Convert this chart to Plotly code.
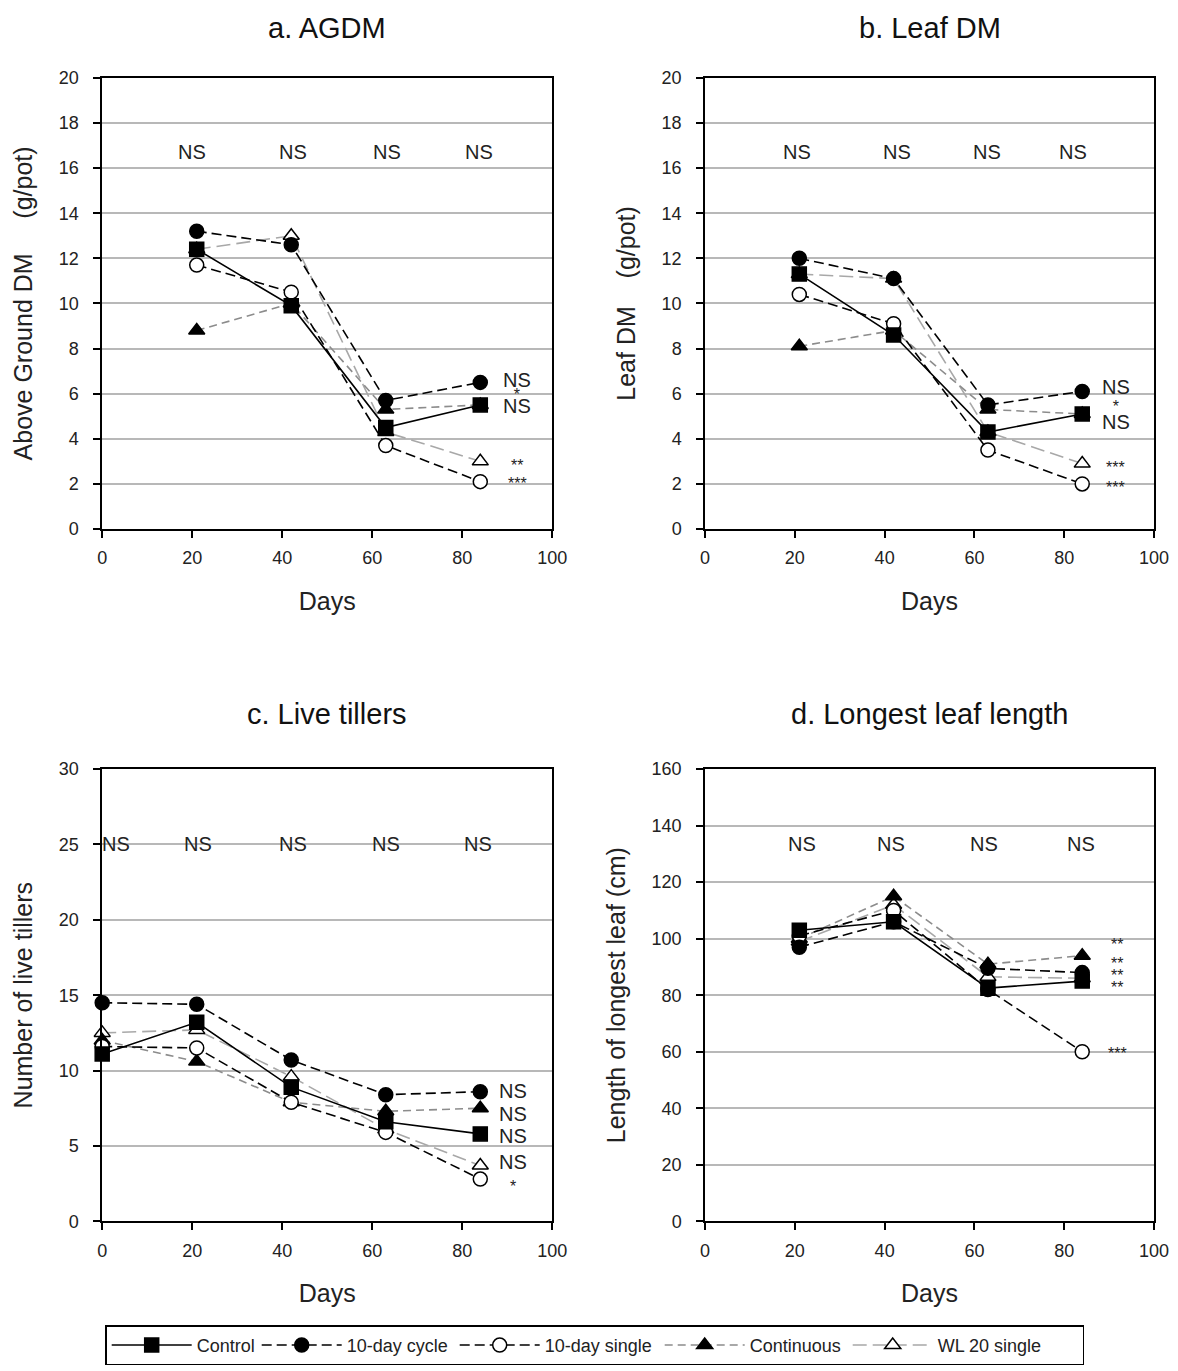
import plotly.graph_objects as go

# ---------------- data ----------------
treatments = ["Control", "10-day cycle", "10-day single", "Continuous", "WL 20 single"]

days_dm = [21, 42, 63, 84]
days_tillers = [0, 21, 42, 63, 84]

# a. AGDM (g/pot)
agdm_control = [12.4, 9.9, 4.5, 5.5]
agdm_cycle = [13.2, 12.6, 5.7, 6.5]
agdm_single = [11.7, 10.5, 3.7, 2.1]
agdm_continuous = [8.8, 10.0, 5.3, 5.5]
agdm_wl20 = [12.4, 13.0, 4.3, 3.0]

# b. Leaf DM (g/pot)
leaf_control = [11.3, 8.6, 4.3, 5.1]
leaf_cycle = [12.0, 11.1, 5.5, 6.1]
leaf_single = [10.4, 9.1, 3.5, 2.0]
leaf_continuous = [8.1, 8.8, 5.3, 5.1]
leaf_wl20 = [11.3, 11.1, 4.3, 2.9]

# c. Live tillers
till_control = [11.1, 13.2, 8.9, 6.6, 5.8]
till_cycle = [14.5, 14.4, 10.7, 8.4, 8.6]
till_single = [11.6, 11.5, 7.9, 5.9, 2.8]
till_continuous = [12.0, 10.6, 7.9, 7.3, 7.5]
till_wl20 = [12.5, 12.7, 9.6, 6.1, 3.7]

# d. Longest leaf length (cm)
len_control = [103, 106, 82.5, 85]
len_cycle = [97, 106, 89.5, 88]
len_single = [101, 110, 82, 60]
len_continuous = [100, 115, 91, 94]
len_wl20 = [99, 112, 86.5, 86]

# significance labels: top row (per harvest) and right-hand labels at day 84
sig_top_a_x = [20, 42.4, 63.3, 83.8]
sig_top_a_y = 16.7
sig_top_b_x = [20.4, 42.7, 62.7, 82]
sig_top_b_y = 16.7
sig_top_c_x = [3.1, 21.3, 42.4, 63.1, 83.6]
sig_top_c_y = 25.0
sig_top_d_x = [21.5, 41.5, 62.2, 83.7]
sig_top_d_y = 133.5

# right-hand labels: each entry is a stack of lines (text list), y of the stack centre
sig_right_a = [(["NS", "*", "NS"], 6.05), (["**"], 3.0), (["***"], 2.2)]
sig_right_b = [(["NS", "*", "NS"], 5.53), (["***"], 2.9), (["***"], 2.0)]
sig_right_c = [(["NS"], 8.65), (["NS"], 7.15), (["NS"], 5.64), (["NS"], 3.94), (["*"], 2.6)]
sig_right_d = [(["**"], 99.2), (["**", "**", "**"], 88.3), (["***"], 60.8)]
# line spacing (px) inside each multi-line stack, per panel
stack_spacing = [13, 17.5, 0, 12]
sig_right_x = [92.2, 91.5, 91.3, 91.8]

# ---------------- styles ----------------
FONT = "Liberation Sans, Arial, sans-serif"
styles = {
    "Control": dict(color="black", dash="solid", symbol="square", fill="black", lw=55),
    "10-day cycle": dict(color="black", dash="10px,5px", symbol="circle", fill="black", lw=103),
    "10-day single": dict(color="black", dash="10px,5px", symbol="circle", fill="white", lw=110),
    "Continuous": dict(color="#8c8c8c", dash="8px,5px", symbol="triangle-up", fill="black", lw=93),
    "WL 20 single": dict(color="#a8a8a8", dash="14px,6px", symbol="triangle-up", fill="white", lw=140),
}

W, H = 1178, 1371
# mapping from target picture pixels to paper fractions (capture scale/offset)
S, CX, CY, OFF = 0.985, 3.6, 10.2, 0


def fx(X):
    return ((X - CX) / S - OFF) / W


def fy(Y):
    return 1 - ((Y - CY) / S - OFF) / H


fig = go.Figure()

panels = [
    ("x", "y", days_dm, [agdm_control, agdm_cycle, agdm_single, agdm_continuous, agdm_wl20]),
    ("x2", "y2", days_dm, [leaf_control, leaf_cycle, leaf_single, leaf_continuous, leaf_wl20]),
    ("x3", "y3", days_tillers, [till_control, till_cycle, till_single, till_continuous, till_wl20]),
    ("x4", "y4", days_dm, [len_control, len_cycle, len_single, len_continuous, len_wl20]),
]

draw_order = [4, 3, 2, 0, 1]
for pi, (xa, ya, xs, series) in enumerate(panels):
    for ti in draw_order:
        name = treatments[ti]
        st = styles[name]
        fig.add_trace(go.Scatter(
            x=xs, y=series[ti], xaxis=xa, yaxis=ya, name=name,
            legendgroup=name, showlegend=(pi == 0), legendrank=ti + 1,
            legendwidth=st["lw"],
            mode="lines+markers", cliponaxis=False,
            line=dict(color=st["color"], dash=st["dash"], width=1.6),
            marker=dict(symbol=st["symbol"], size=14, color=st["fill"],
                        line=dict(color="black", width=1.5)),
        ))

# ---------------- layout ----------------
xdom_l = [fx(101), fx(552)]
xdom_r = [fx(705), fx(1155)]
ydom_t = [fy(529), fy(78)]
ydom_b = [fy(1221), fy(769)]

tickfont = dict(family=FONT, size=18, color="#222")
titlefont = dict(family=FONT, size=25, color="#222")


def xaxis(dom, anchor):
    return dict(domain=dom, anchor=anchor, range=[0, 100], tickvals=[0, 20, 40, 60, 80, 100],
                showgrid=False, zeroline=False, showline=True, linecolor="black", linewidth=1.5,
                mirror=True, ticks="outside", ticklen=7, tickwidth=1.5, tickcolor="black",
                tickfont=tickfont, ticklabelstandoff=5,
                title=dict(text="Days", font=titlefont, standoff=25))


def yaxis(dom, anchor, rng, dtick, title):
    return dict(domain=dom, anchor=anchor, range=rng, dtick=dtick,
                showgrid=True, gridcolor="#b8b8b8", gridwidth=1.5, zeroline=False,
                showline=True, linecolor="black", linewidth=1.5, mirror=True,
                ticks="outside", ticklen=7, tickwidth=1.5, tickcolor="black",
                tickfont=tickfont, ticklabelstandoff=11,
                title=dict(text=title, font=titlefont, standoff=19))


nb = "\u00a0"
fig.update_layout(
    width=W, height=H,
    margin=dict(l=0, r=0, t=0, b=0),
    paper_bgcolor="white", plot_bgcolor="white",
    hovermode=False,
    font=dict(family=FONT, color="#222"),
    xaxis=xaxis(xdom_l, "y"),
    yaxis=yaxis(ydom_t, "x", [0, 20], 2, "Above Ground DM" + nb * 5 + "(g/pot)"),
    xaxis2=xaxis(xdom_r, "y2"),
    yaxis2=yaxis(ydom_t, "x2", [0, 20], 2, "Leaf DM" + nb * 4 + "(g/pot)"),
    xaxis3=xaxis(xdom_l, "y3"),
    yaxis3=yaxis(ydom_b, "x3", [0, 30], 5, "Number of live tillers"),
    xaxis4=xaxis(xdom_r, "y4"),
    yaxis4=yaxis(ydom_b, "x4", [0, 160], 20, "Length of longest leaf (cm)"),
    legend=dict(orientation="h", x=fx(104), xanchor="left", y=fy(1325), yanchor="top",
                bordercolor="black", borderwidth=1.5, bgcolor="white",
                font=dict(family=FONT, size=18, color="#222"), traceorder="normal",
                itemwidth=80),
)

# panel titles
titles = [("x", "a. AGDM", 1.0, "top"), ("x2", "b. Leaf DM", 1.0, "top"),
          ("x3", "c. Live tillers", fy(714), "middle"), ("x4", "d. Longest leaf length", fy(714), "middle")]
for xa, txt, yp, ya_ in titles:
    fig.add_annotation(text=txt, xref=xa + " domain", yref="paper", x=0.5, y=yp,
                       showarrow=False, xanchor="center", yanchor=ya_,
                       font=dict(family=FONT, size=29, color="#111"))

# significance annotations
NS_SIZE = 20
STAR_SIZE = 16
sig = [
    ("x", "y", sig_top_a_x, sig_top_a_y, sig_right_a, sig_right_x[0], stack_spacing[0]),
    ("x2", "y2", sig_top_b_x, sig_top_b_y, sig_right_b, sig_right_x[1], stack_spacing[1]),
    ("x3", "y3", sig_top_c_x, sig_top_c_y, sig_right_c, sig_right_x[2], stack_spacing[2]),
    ("x4", "y4", sig_top_d_x, sig_top_d_y, sig_right_d, sig_right_x[3], stack_spacing[3]),
]
for xa, ya, tx, ty, right, rx, spacing in sig:
    for x in tx:
        fig.add_annotation(text="NS", xref=xa, yref=ya, x=x, y=ty, showarrow=False,
                           xanchor="center", yanchor="middle",
                           font=dict(family=FONT, size=NS_SIZE, color="#222"))
    for lines, y in right:
        only_stars = all(t.startswith("*") for t in lines)
        if len(lines) == 1:
            t = lines[0]
            fs = STAR_SIZE if only_stars else NS_SIZE
            txt = t
        else:
            fs = spacing / 1.3
            parts = []
            for t in lines:
                s = STAR_SIZE if t.startswith("*") else NS_SIZE
                parts.append("<span style='font-size:%dpx'>%s</span>" % (s, t))
            txt = "<br>".join(parts)
        fig.add_annotation(text=txt, xref=xa, yref=ya, x=rx, y=y, showarrow=False,
                           xanchor="center", yanchor="middle",
                           yshift=-4 if only_stars else 0,
                           font=dict(family=FONT, size=fs, color="#222"))

fig.write_html("out.html", config={"displayModeBar": False},
               post_script="document.body.style.margin='0px';")
